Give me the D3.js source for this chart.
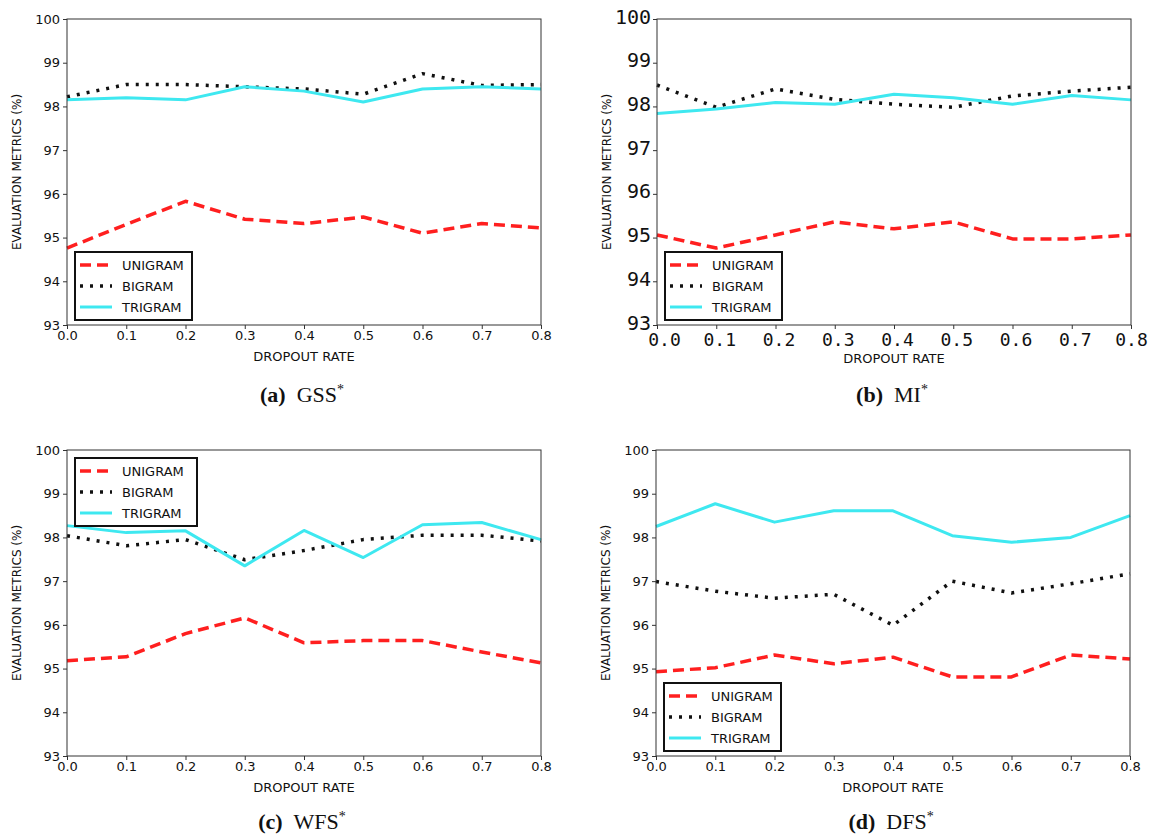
<!DOCTYPE html>
<html>
<head>
<meta charset="utf-8">
<script src="https://cdn.jsdelivr.net/npm/d3@7"></script>
<style>
  body { margin: 0; background: #fff; }
  svg { display: block; }
</style>
</head>
<body>
<div id="chart"></div>
<script>
// Shared axes
const dropoutRates = [0.0, 0.1, 0.2, 0.3, 0.4, 0.5, 0.6, 0.7, 0.8];
const yTicks = [93, 94, 95, 96, 97, 98, 99, 100];
const seriesNames = ["UNIGRAM", "BIGRAM", "TRIGRAM"];

// (a) GSS*
const gssUnigram = [94.76, 95.30, 95.83, 95.42, 95.32, 95.47, 95.10, 95.32, 95.22];
const gssBigram  = [98.22, 98.50, 98.50, 98.45, 98.40, 98.28, 98.75, 98.48, 98.50];
const gssTrigram = [98.15, 98.20, 98.15, 98.45, 98.35, 98.10, 98.40, 98.45, 98.40];

// (b) MI*
const miUnigram = [95.06, 94.76, 95.06, 95.36, 95.20, 95.36, 94.97, 94.97, 95.06];
const miBigram  = [98.49, 97.98, 98.40, 98.16, 98.05, 97.98, 98.24, 98.35, 98.44];
const miTrigram = [97.84, 97.94, 98.09, 98.05, 98.28, 98.20, 98.05, 98.25, 98.15];

// (c) WFS*
const wfsUnigram = [95.18, 95.27, 95.80, 96.16, 95.59, 95.64, 95.64, 95.38, 95.13];
const wfsBigram  = [98.04, 97.81, 97.95, 97.49, 97.70, 97.95, 98.05, 98.05, 97.92];
const wfsTrigram = [98.27, 98.11, 98.15, 97.35, 98.16, 97.54, 98.29, 98.34, 97.95];

// (d) DFS*
const dfsUnigram = [94.93, 95.02, 95.31, 95.11, 95.26, 94.81, 94.81, 95.31, 95.22];
const dfsBigram  = [96.99, 96.77, 96.61, 96.70, 95.99, 97.00, 96.73, 96.94, 97.17];
const dfsTrigram = [98.25, 98.77, 98.35, 98.61, 98.61, 98.04, 97.89, 98.00, 98.50];

const panelLetters = ["a", "b", "c", "d"];
const panelTitles = ["GSS", "MI", "WFS", "DFS"];

const panels = [
    { values: [gssUnigram, gssBigram, gssTrigram], left: 67, top: 19, legend: "bottom", mono: false },
    { values: [miUnigram, miBigram, miTrigram], left: 657, top: 19, legend: "bottom", mono: true },
    { values: [wfsUnigram, wfsBigram, wfsTrigram], left: 67, top: 450, legend: "top", mono: false },
    { values: [dfsUnigram, dfsBigram, dfsTrigram], left: 656, top: 450, legend: "bottom", mono: false }
];

// Line styles for each series
const styles = [
    { color: "#ff1f1f", dash: "11,6", width: 3.5 },
    { color: "#111111", dash: "3,7", width: 3.5 },
    { color: "#3ee8f0", dash: null, width: 3 }
];

const plotW = 474;
const plotH = 306;

const svg = d3.select("#chart")
    .append("svg")
    .attr("width", 1149)
    .attr("height", 834);

panels.forEach(function(p, i) {
    const g = svg.append("g")
        .attr("transform", `translate(${p.left},${p.top})`);

    const x = d3.scaleLinear().domain([0, 0.8]).range([0, plotW]);
    const y = d3.scaleLinear().domain([93, 100]).range([plotH, 0]);

    const tickFont = p.mono ? "'DejaVu Sans Mono', monospace" : "'DejaVu Sans', sans-serif";

    // Axes
    const xAxis = g.append("g")
        .attr("transform", `translate(0,${plotH})`)
        .call(d3.axisBottom(x).tickValues(dropoutRates).tickFormat(d3.format(".1f")).tickSize(4).tickPadding(p.mono ? 4 : 2));
    const yAxis = g.append("g")
        .call(d3.axisLeft(y).tickValues(yTicks).tickFormat(d3.format("d")).tickSize(4).tickPadding(p.mono ? 2 : 3));

    [xAxis, yAxis].forEach(function(ax) {
        ax.select(".domain").remove();
        ax.selectAll("line").attr("stroke", "#333");
        ax.selectAll("text")
            .attr("fill", "#111")
            .style("font-family", tickFont);
    });
    if (p.mono) {
        // the monospace labels sit a little right of their ticks in the original
        const last = dropoutRates.length - 1;
        xAxis.selectAll("text").style("font-size", "18px")
            .attr("dx", (d, j) => j === 0 ? 7 : (j === last ? 0 : 3));
        yAxis.selectAll("text").style("font-size", "20px").attr("dy", "0.2em");
    } else {
        xAxis.selectAll("text").style("font-size", "13px");
        yAxis.selectAll("text").style("font-size", "13px");
    }

    // Series lines
    const line = d3.line()
        .x((d, j) => x(dropoutRates[j]))
        .y(d => y(d));

    p.values.forEach(function(vals, k) {
        const s = styles[k];
        g.append("path")
            .datum(vals)
            .attr("fill", "none")
            .attr("stroke", s.color)
            .attr("stroke-width", s.width)
            .attr("stroke-dasharray", s.dash)
            .attr("stroke-linejoin", "round")
            .attr("d", line);
    });

    // Plot frame
    g.append("rect")
        .attr("width", plotW)
        .attr("height", plotH)
        .attr("fill", "none")
        .attr("stroke", "#333")
        .attr("stroke-width", 1);

    // Axis labels
    g.append("text")
        .attr("x", plotW / 2)
        .attr("y", plotH + (p.mono ? 38 : 36))
        .attr("text-anchor", "middle")
        .style("font-family", "'DejaVu Sans', sans-serif")
        .style("font-size", "13px")
        .attr("fill", "#111")
        .text("DROPOUT RATE");

    g.append("text")
        .attr("transform", "rotate(-90)")
        .attr("x", -plotH / 2)
        .attr("y", -46)
        .attr("text-anchor", "middle")
        .style("font-family", "'DejaVu Sans', sans-serif")
        .style("font-size", "12px")
        .attr("fill", "#111")
        .text("EVALUATION METRICS (%)");

    // Caption
    const cap = g.append("text")
        .attr("x", plotW / 2 - 2)
        .attr("y", plotH + (p.top < 100 ? 77 : 73))
        .attr("text-anchor", "middle")
        .style("font-family", "'Liberation Serif', 'DejaVu Serif', serif")
        .style("font-size", "22px")
        .attr("fill", "#111");
    cap.append("tspan").style("font-weight", "bold").text(`(${panelLetters[i]})`);
    cap.append("tspan").text("\u2002" + panelTitles[i]);
    cap.append("tspan").attr("dy", -8).style("font-size", "14px").text("*");

    // Legend
    const legW = p.legend === "top" ? 122 : 117;
    const legH = 68;
    const legX = 8;
    const legY = p.legend === "top" ? 8 : plotH - legH - 5;
    const leg = g.append("g").attr("transform", `translate(${legX},${legY})`);
    leg.append("rect")
        .attr("width", legW)
        .attr("height", legH)
        .attr("fill", "#fff")
        .attr("stroke", "#111")
        .attr("stroke-width", 2);
    seriesNames.forEach(function(name, k) {
        const s = styles[k];
        const ly = 13 + k * 21;
        leg.append("line")
            .attr("x1", 5).attr("x2", 37)
            .attr("y1", ly).attr("y2", ly)
            .attr("stroke", s.color)
            .attr("stroke-width", s.width)
            .attr("stroke-dasharray", s.dash);
        leg.append("text")
            .attr("x", 47)
            .attr("y", ly + 5)
            .style("font-family", "'DejaVu Sans', sans-serif")
            .style("font-size", "13px")
            .attr("fill", "#111")
            .text(name);
    });
});
</script>
</body>
</html>
